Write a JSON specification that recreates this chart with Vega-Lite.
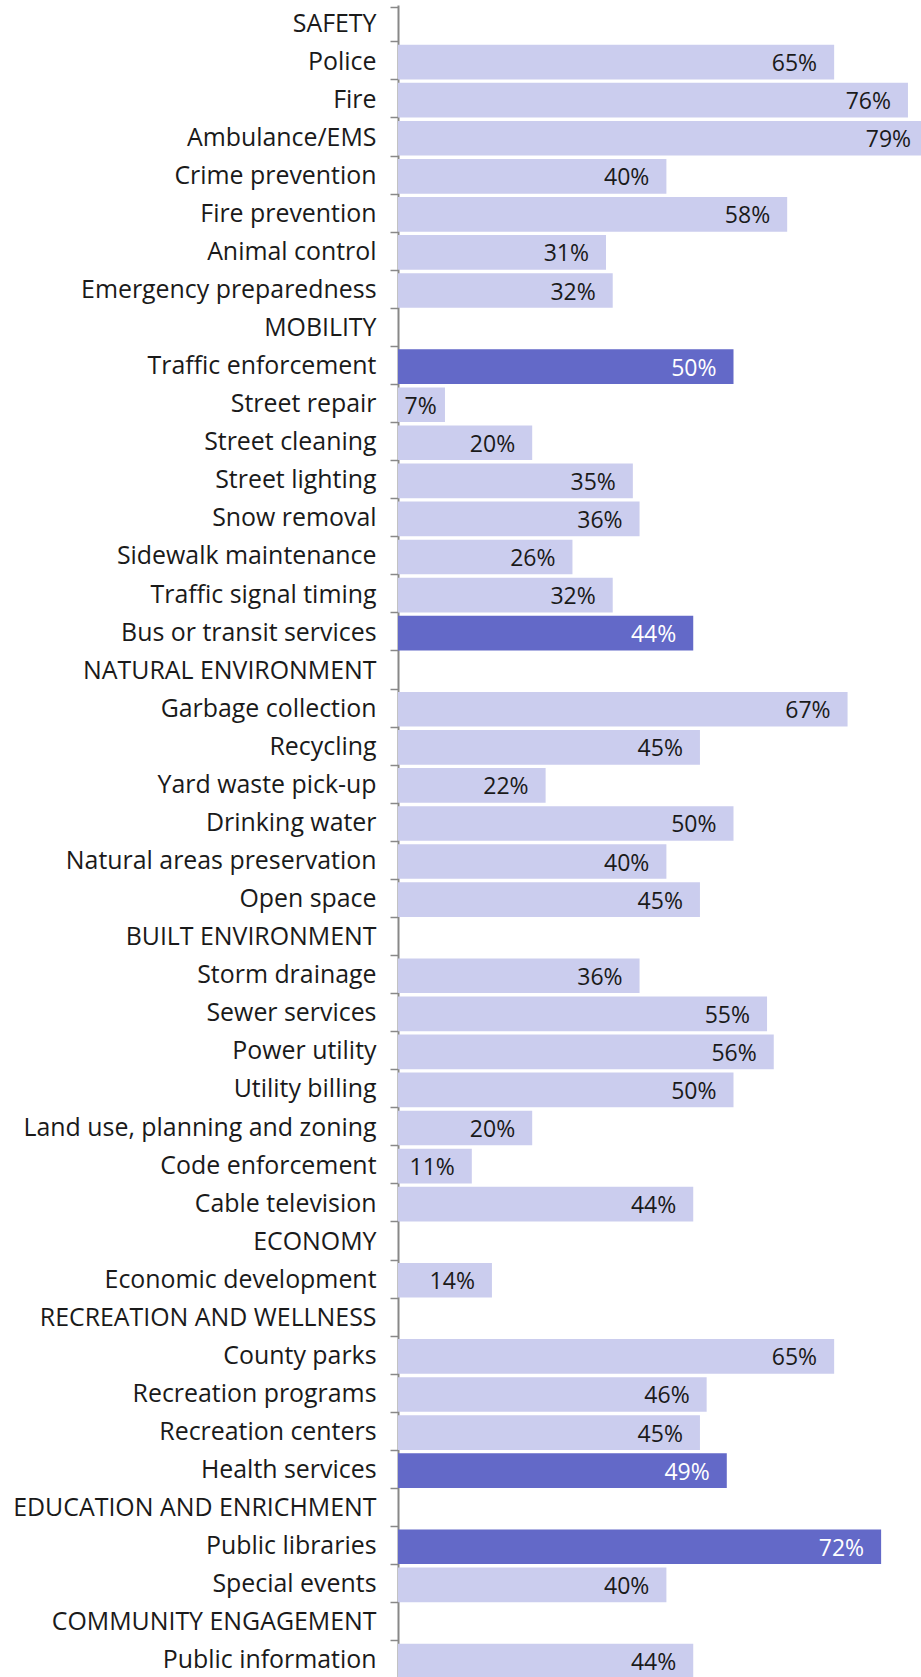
{
  "$schema": "https://vega.github.io/schema/vega-lite/v6.json",
  "autosize": {"type": "none"},
  "padding": {"left": 398, "top": 5, "right": 0, "bottom": 0},
  "width": 671,
  "height": 1675,
  "background": "white",
  "config": {"view": {"stroke": null}, "font": "Open Sans"},
  "data": {"values": [
    {"item": "SAFETY", "value": null, "hl": false},
    {"item": "Police", "value": 0.65, "hl": false},
    {"item": "Fire", "value": 0.76, "hl": false},
    {"item": "Ambulance/EMS", "value": 0.79, "hl": false},
    {"item": "Crime prevention", "value": 0.40, "hl": false},
    {"item": "Fire prevention", "value": 0.58, "hl": false},
    {"item": "Animal control", "value": 0.31, "hl": false},
    {"item": "Emergency preparedness", "value": 0.32, "hl": false},
    {"item": "MOBILITY", "value": null, "hl": false},
    {"item": "Traffic enforcement", "value": 0.50, "hl": true},
    {"item": "Street repair", "value": 0.07, "hl": false},
    {"item": "Street cleaning", "value": 0.20, "hl": false},
    {"item": "Street lighting", "value": 0.35, "hl": false},
    {"item": "Snow removal", "value": 0.36, "hl": false},
    {"item": "Sidewalk maintenance", "value": 0.26, "hl": false},
    {"item": "Traffic signal timing", "value": 0.32, "hl": false},
    {"item": "Bus or transit services", "value": 0.44, "hl": true},
    {"item": "NATURAL ENVIRONMENT", "value": null, "hl": false},
    {"item": "Garbage collection", "value": 0.67, "hl": false},
    {"item": "Recycling", "value": 0.45, "hl": false},
    {"item": "Yard waste pick-up", "value": 0.22, "hl": false},
    {"item": "Drinking water", "value": 0.50, "hl": false},
    {"item": "Natural areas preservation", "value": 0.40, "hl": false},
    {"item": "Open space", "value": 0.45, "hl": false},
    {"item": "BUILT ENVIRONMENT", "value": null, "hl": false},
    {"item": "Storm drainage", "value": 0.36, "hl": false},
    {"item": "Sewer services", "value": 0.55, "hl": false},
    {"item": "Power utility", "value": 0.56, "hl": false},
    {"item": "Utility billing", "value": 0.50, "hl": false},
    {"item": "Land use, planning and zoning", "value": 0.20, "hl": false},
    {"item": "Code enforcement", "value": 0.11, "hl": false},
    {"item": "Cable television", "value": 0.44, "hl": false},
    {"item": "ECONOMY", "value": null, "hl": false},
    {"item": "Economic development", "value": 0.14, "hl": false},
    {"item": "RECREATION AND WELLNESS", "value": null, "hl": false},
    {"item": "County parks", "value": 0.65, "hl": false},
    {"item": "Recreation programs", "value": 0.46, "hl": false},
    {"item": "Recreation centers", "value": 0.45, "hl": false},
    {"item": "Health services", "value": 0.49, "hl": true},
    {"item": "EDUCATION AND ENRICHMENT", "value": null, "hl": false},
    {"item": "Public libraries", "value": 0.72, "hl": true},
    {"item": "Special events", "value": 0.40, "hl": false},
    {"item": "COMMUNITY ENGAGEMENT", "value": null, "hl": false},
    {"item": "Public information", "value": 0.44, "hl": false}
  ]},
  "encoding": {
    "y": {
      "field": "item", "type": "nominal", "sort": null,
      "scale": {
        "domain": ["SAFETY", "Police", "Fire", "Ambulance/EMS", "Crime prevention", "Fire prevention", "Animal control", "Emergency preparedness",
          "MOBILITY", "Traffic enforcement", "Street repair", "Street cleaning", "Street lighting", "Snow removal", "Sidewalk maintenance", "Traffic signal timing", "Bus or transit services",
          "NATURAL ENVIRONMENT", "Garbage collection", "Recycling", "Yard waste pick-up", "Drinking water", "Natural areas preservation", "Open space",
          "BUILT ENVIRONMENT", "Storm drainage", "Sewer services", "Power utility", "Utility billing", "Land use, planning and zoning", "Code enforcement", "Cable television",
          "ECONOMY", "Economic development",
          "RECREATION AND WELLNESS", "County parks", "Recreation programs", "Recreation centers", "Health services",
          "EDUCATION AND ENRICHMENT", "Public libraries", "Special events",
          "COMMUNITY ENGAGEMENT", "Public information"],
        "paddingInner": 0.09, "paddingOuter": 0.045
      },
      "axis": {
        "title": null, "tickBand": "extent", "domainColor": "#888888", "domainWidth": 2,
        "tickColor": "#888888", "tickWidth": 1.5, "tickSize": 8, "labelPadding": 14,
        "labelFontSize": 24.9, "labelColor": "#1a1a1a", "labelFont": "Open Sans",
        "labelLimit": 0
      }
    }
  },
  "layer": [
    {
      "mark": {"type": "bar"},
      "encoding": {
        "x": {"field": "value", "type": "quantitative", "scale": {"domain": [0, 1], "nice": false, "zero": true}, "axis": null},
        "color": {"field": "hl", "type": "nominal", "scale": {"domain": [false, true], "range": ["#cbcdee", "#6369c8"]}, "legend": null}
      }
    },
    {
      "transform": [
        {"filter": "datum.value != null"},
        {"calculate": "max(datum.value, 0.083)", "as": "lx"}
      ],
      "mark": {"type": "text", "align": "right", "baseline": "middle", "dx": -17, "dy": 2, "fontSize": 23, "font": "Open Sans"},
      "encoding": {
        "x": {"field": "lx", "type": "quantitative", "scale": {"domain": [0, 1], "nice": false}},
        "text": {"field": "value", "type": "quantitative", "format": ".0%"},
        "color": {"condition": {"test": "datum.hl", "value": "#ffffff"}, "value": "#1a1a1a"}
      }
    }
  ]
}
